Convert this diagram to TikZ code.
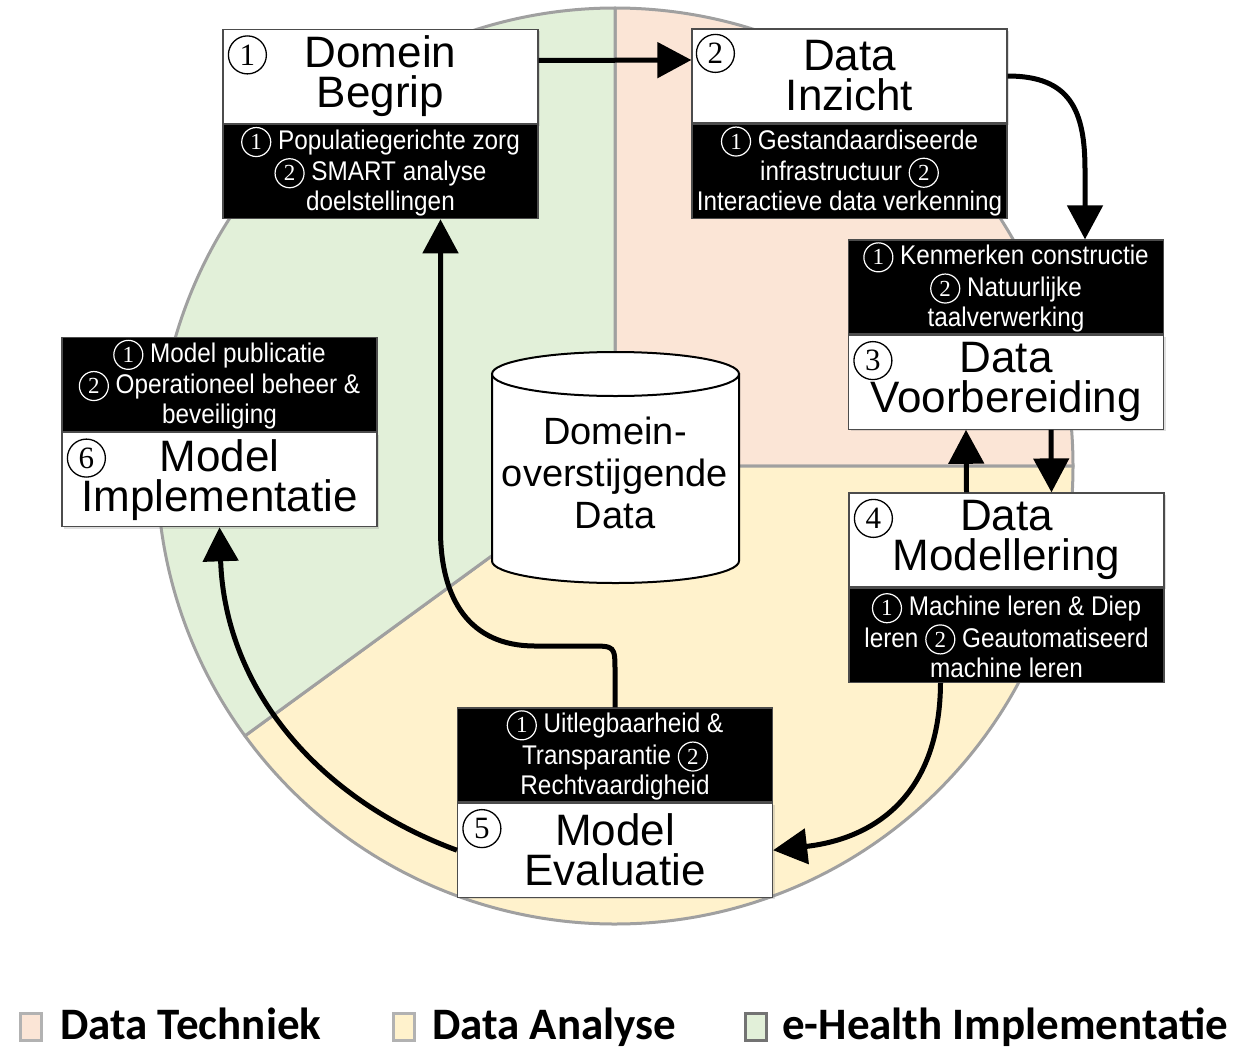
\documentclass[tikz,border=0pt]{standalone}
\usepackage{fontspec}
\setmainfont{Liberation Sans}
\newfontfamily\narrowfont[FakeStretch=0.9]{Liberation Sans}
\newfontfamily\numfont{Liberation Serif}
\newfontfamily\legfont{Carlito}
\usetikzlibrary{arrows.meta,calc,shadows}
\definecolor{pinkc}{HTML}{FBE5D6}
\definecolor{yellowc}{HTML}{FFF2CC}
\definecolor{greenc}{HTML}{E2F0D9}
\definecolor{sectline}{HTML}{A0A0A0}
\newcommand{\cn}[1]{\tikz[baseline=(cnx.base)]\node[shape=circle,draw=white,fill=black,text=white,line width=1.2pt,inner sep=0pt,minimum width=29pt,minimum height=29pt,align=center,anchor=center,font=\numfont\fontsize{23}{23}\selectfont](cnx){#1};}
\begin{document}
\begin{tikzpicture}[x=1pt,y=-1pt,
  sector/.style={draw=sectline,line width=3pt,line join=round},
  cyl/.style={draw=black,fill=white,line width=2pt},
  arr/.style={line width=5pt,-{Triangle[width=35pt,length=34pt]}},
  title/.style={draw=black!70,line width=1.2pt,fill=white,minimum width=315pt,minimum height=94pt,inner sep=0pt,align=center,font=\fontsize{44}{40}\selectfont,drop shadow={opacity=0.25,shadow xshift=2pt,shadow yshift=-2pt}},
  detail/.style={draw=black!70,line width=1.2pt,fill=black,text=white,minimum width=315pt,minimum height=94pt,inner sep=0pt,align=center,font=\narrowfont\fontsize{27}{30}\selectfont},
  tnum/.style={shape=circle,draw=black,line width=1.3pt,minimum size=38pt,inner sep=0pt,font=\numfont\fontsize{31}{31}\selectfont},
  legsq/.style={minimum width=21pt,minimum height=27pt,inner sep=0pt,line width=3pt,draw=black!30},
  legtxt/.style={font=\legfont\bfseries\fontsize{45}{46}\selectfont,inner sep=0pt,anchor=base west}
]
\useasboundingbox (0,0) rectangle (1260,1049);
% sectors
\coordinate (C) at (615,466);
\filldraw[sector,fill=pinkc] (C) -- ++(270:458) arc[start angle=270,end angle=360,radius=458] -- cycle;
\filldraw[sector,fill=yellowc] (C) -- ++(0:458) arc[start angle=0,end angle=143.9,radius=458] -- cycle;
\filldraw[sector,fill=greenc] (C) -- ++(143.9:458) arc[start angle=143.9,end angle=270,radius=458] -- cycle;
% cylinder
\path[cyl] (492,374) -- (492,561) arc[start angle=180,end angle=0,x radius=123.5,y radius=22] -- (739,374) -- cycle;
\filldraw[cyl] (615.5,374) ellipse[x radius=123.5,y radius=22];
\node[font=\fontsize{38}{42}\selectfont,align=center,inner sep=0pt] (db) at (615,473) {Domein-\\overstijgende\\Data};
% boxes
\node[title] (t1) at (380.5,76.5) {Domein\\Begrip};
\node[detail,anchor=north] (d1) at (t1.south) {\cn{1} Populatiegerichte zorg\\\cn{2} SMART analyse\\doelstellingen};
\node[title] (t2) at (849.5,76) {Data\\Inzicht};
\node[detail,anchor=north] (d2) at (t2.south) {\cn{1} Gestandaardiseerde\\infrastructuur \cn{2}\\Interactieve data verkenning};
\node[detail] (d3) at (1006,287) {\cn{1} Kenmerken constructie\\\cn{2} Natuurlijke\\taalverwerking};
\node[title,anchor=north] (t3) at (d3.south) {Data\\Voorbereiding};
\node[title] (t4) at (1006.5,540) {Data\\Modellering};
\node[detail,anchor=north] (d4) at (t4.south) {\cn{1} Machine leren \& Diep\\leren \cn{2} Geautomatiseerd\\machine leren};
\node[detail] (d5) at (615,755) {\cn{1} Uitlegbaarheid \&\\Transparantie \cn{2}\\Rechtvaardigheid};
\node[title,anchor=north] (t5) at (d5.south) {Model\\Evaluatie};
\node[detail] (d6) at (219.5,384.5) {\cn{1} Model publicatie\\\cn{2} Operationeel beheer \&\\beveiliging};
\node[title,anchor=north] (t6) at (d6.south) {Model\\Implementatie};
% title numbers
\node[tnum] (n1) at ($(t1.north west)+(25,26)$) {1};
\node[tnum] (n2) at ($(t2.north west)+(24,25)$) {2};
\node[tnum] (n3) at ($(t3.north west)+(25,26)$) {3};
\node[tnum] (n4) at ($(t4.north west)+(25,26)$) {4};
\node[tnum] (n5) at ($(t5.north west)+(25,26)$) {5};
\node[tnum] (n6) at ($(t6.north west)+(25,26)$) {6};
% arrows
\draw[arr] ([yshift=16pt]t1.east) -- ([yshift=16pt]t2.west);
\draw[arr] (t2.east) .. controls (1070,76) and (1085,110) .. (1085,170) -- ([xshift=79pt]d3.north);
\draw[arr] ([xshift=45pt]t3.south) -- ([xshift=45pt]t4.north);
\draw[arr] ([xshift=-40pt]t4.north) -- ([xshift=-40pt]t3.south);
\draw[arr] ([xshift=-66pt]d4.south) .. controls (940,790) and (880,838) .. (t5.east);
\draw[arr] (d5.north) -- (615,672) .. controls (615,646) .. (590,646) -- (535,646) .. controls (470,646) and (440.5,600) .. (440.5,530) -- ([xshift=60pt]d1.south);
\draw[arr] (t5.west) .. controls (320,800) and (225,690) .. (t6.south);
% legend
\node[legsq,fill=pinkc] (l1) at (30.5,1027) {};
\node[legtxt] (lt1) at (60,1039) {Data Techniek};
\node[legsq,fill=yellowc] (l2) at (404,1027) {};
\node[legtxt] (lt2) at (432,1039) {Data Analyse};
\node[legsq,fill=greenc,draw=black!55] (l3) at (756,1027) {};
\node[legtxt] (lt3) at (782,1039) {e-Health Implementatie};
\end{tikzpicture}
\end{document}
